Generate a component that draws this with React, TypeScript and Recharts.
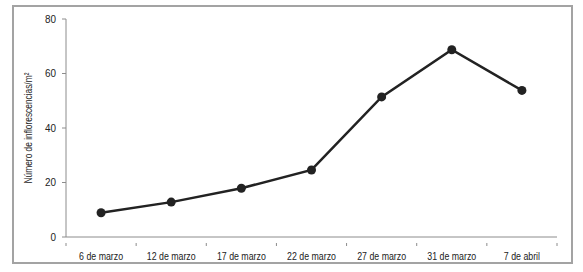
import React from "react";
import { LineChart, Line, XAxis, YAxis } from "recharts";

const categories = [
  "6 de marzo",
  "12 de marzo",
  "17 de marzo",
  "22 de marzo",
  "27 de marzo",
  "31 de marzo",
  "7 de abril",
];
const inflorescencias = [8.9, 12.8, 17.9, 24.6, 51.4, 68.7, 53.8];
const yTicks = [0, 20, 40, 60, 80];
const yLabel = "Número de inflorescencias/m²";

const data = categories.map((fecha, i) => ({ fecha, valor: inflorescencias[i] }));

const FONT = "'Liberation Sans', Arial, sans-serif";
const AXIS_COLOR = "#8c8c8c";
const TEXT_COLOR = "#222";
const NARROW = 0.8;

// Condensed text drawn by squeezing the glyphs horizontally around the anchor
const NarrowText = ({ x, y, anchor, children, dy, rotate, squeeze = NARROW }: any) => (
  <text
    transform={`translate(${x},${y})${rotate ? ` rotate(${rotate})` : ""} scale(${squeeze},1)`}
    x={0}
    y={0}
    dy={dy}
    textAnchor={anchor}
    fontFamily={FONT}
    fontSize={11}
    fill={TEXT_COLOR}
  >
    {children}
  </text>
);

// Category label centred in its band, with tick marks on the band edges
const EdgeTick = (props: any) => {
  const { x, y, payload, index } = props;
  const half = payload.offset || 0;
  const last = index === categories.length - 1;
  return (
    <g>
      <line x1={x - half} x2={x - half} y1={y - 9} y2={y - 6} stroke={AXIS_COLOR} strokeWidth={1} />
      {last && (
        <line x1={x + half} x2={x + half} y1={y - 9} y2={y - 6} stroke={AXIS_COLOR} strokeWidth={1} />
      )}
      <NarrowText x={x} y={y} dy="0.71em" anchor="middle">
        {payload.value}
      </NarrowText>
    </g>
  );
};

const ValueTick = (props: any) => {
  const { x, y, payload } = props;
  return (
    <NarrowText x={x} y={y} dy="0.355em" anchor="end" squeeze={0.9}>
      {payload.value}
    </NarrowText>
  );
};

const YTitle = (props: any) => {
  const { viewBox } = props;
  const cy = viewBox.y + viewBox.height / 2;
  return (
    <NarrowText x={28} y={cy} anchor="middle" rotate={-90} squeeze={0.76} dy="0.35em">
      {yLabel}
    </NarrowText>
  );
};

export default function App() {
  return (
    <div style={{ position: "absolute", left: 0, top: 0, width: 583, height: 272, background: "#fff" }}>
      <div
        style={{
          position: "absolute",
          left: 12,
          top: 5,
          width: 561,
          height: 259,
          border: "2px solid #a3a3a3",
          boxSizing: "border-box",
        }}
      />
      <div style={{ position: "absolute", left: 0, top: 0 }}>
        <LineChart
          width={583}
          height={272}
          data={data}
          margin={{ top: 19, right: 26, left: 6, bottom: 0 }}
        >
          <XAxis
            dataKey="fecha"
            scale="band"
            height={35}
            axisLine={{ stroke: AXIS_COLOR }}
            tickLine={false}
            tickMargin={9}
            tick={<EdgeTick />}
            interval={0}
          />
          <YAxis
            domain={[0, 80]}
            ticks={yTicks}
            width={60}
            axisLine={{ stroke: AXIS_COLOR }}
            tickLine={{ stroke: AXIS_COLOR }}
            tickSize={4}
            tickMargin={6}
            tick={<ValueTick />}
            label={<YTitle />}
          />
          <Line
            type="linear"
            dataKey="valor"
            stroke="#222"
            strokeWidth={2.5}
            dot={{ r: 4.5, fill: "#222", stroke: "#222", strokeWidth: 0 }}
            isAnimationActive={false}
          />
        </LineChart>
      </div>
    </div>
  );
}
